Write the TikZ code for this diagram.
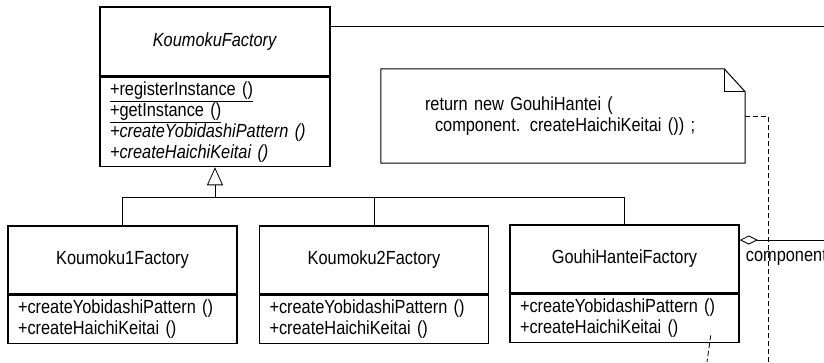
\documentclass[tikz,border=0pt]{standalone}
\usepackage{fontspec}
\setmainfont[FakeStretch=0.86]{Liberation Sans}
\usetikzlibrary{arrows.meta,positioning,calc}

\begin{document}
\begin{tikzpicture}[x=1pt,y=-1pt,
  umlfont/.style={font=\fontsize{19}{21}\selectfont},
  cname/.style={draw,line width=1.5pt,minimum width=229,minimum height=68,inner sep=0pt,umlfont},
  ops/.style={draw,line width=1.5pt,align=left,text width=209,inner xsep=10pt,inner ysep=0pt,minimum height=48,anchor=north,umlfont},
  link/.style={line width=0.8pt},
  dep/.style={line width=0.8pt,dash pattern=on 5pt off 3pt}]
  \useasboundingbox (0,0) rectangle (824,362);
  % abstract factory
  \node[cname,minimum width=230,minimum height=69] (kf) at (215,41.5) {\textit{KoumokuFactory}};
  \node[ops,text width=210,minimum height=89] (kfops) at (kf.south) {\underline{+registerInstance ()}\\\underline{+getInstance ()}\\\textit{+createYobidashiPattern ()}\\\textit{+createHaichiKeitai ()}};
  % concrete factories
  \node[cname] (k1) at (122.5,260) {Koumoku1Factory};
  \node[ops] (k1ops) at (k1.south) {+createYobidashiPattern ()\\+createHaichiKeitai ()};
  \node[cname,right=21 of k1] (k2) {Koumoku2Factory};
  \node[ops] (k2ops) at (k2.south) {+createYobidashiPattern ()\\+createHaichiKeitai ()};
  \node[cname,right=20 of k2,yshift=1] (gh) {GouhiHanteiFactory};
  \node[ops] (ghops) at (gh.south) {+createYobidashiPattern ()\\+createHaichiKeitai ()};
  % note
  \node[minimum width=364,minimum height=94,inner xsep=44pt,text width=276,align=left,umlfont] (note) at (563,116) {return new GouhiHantei (\\\hspace*{10pt}component. createHaichiKeitai ()) ;};
  \draw[line width=1pt] (note.north west) -- ($(note.north east)+(-21,0)$) -- ($(note.north east)+(0,23)$) -- (note.south east) -- (note.south west) -- cycle;
  \draw[line width=1pt] ($(note.north east)+(-21,0)$) |- ($(note.north east)+(0,23)$);
  % inheritance
  \coordinate (bar) at ($(kfops.south)+(0,30)$);
  \draw[link,-{Triangle[open,length=18pt,width=16pt]}] (bar) -- (kfops.south);
  \draw[link] (k1.north) |- (bar) -| (gh.north);
  \draw[link] (k2.north) -- (k2.north |- bar);
  % links leaving the picture
  \coordinate (topend) at (824,26);
  \draw[link] (kf.east |- topend) -- (topend);
  \coordinate (compend) at (824,240);
  \draw[link,{Diamond[open,length=18pt,width=9pt]}-] (gh.east |- compend) -- (compend);
  \node[umlfont,anchor=west,inner sep=0pt] (comp) at ($(gh.east |- compend)+(6,17)$) {component};
  \coordinate (noteend) at (768,362);
  \draw[dep] (note.east) -| (noteend);
  \coordinate (ghref) at ($(ghops.south east)+(-29,-8)$);
  \coordinate (ghend) at (707,362);
  \draw[dep] (ghref) -- (ghend);
\end{tikzpicture}
\end{document}
